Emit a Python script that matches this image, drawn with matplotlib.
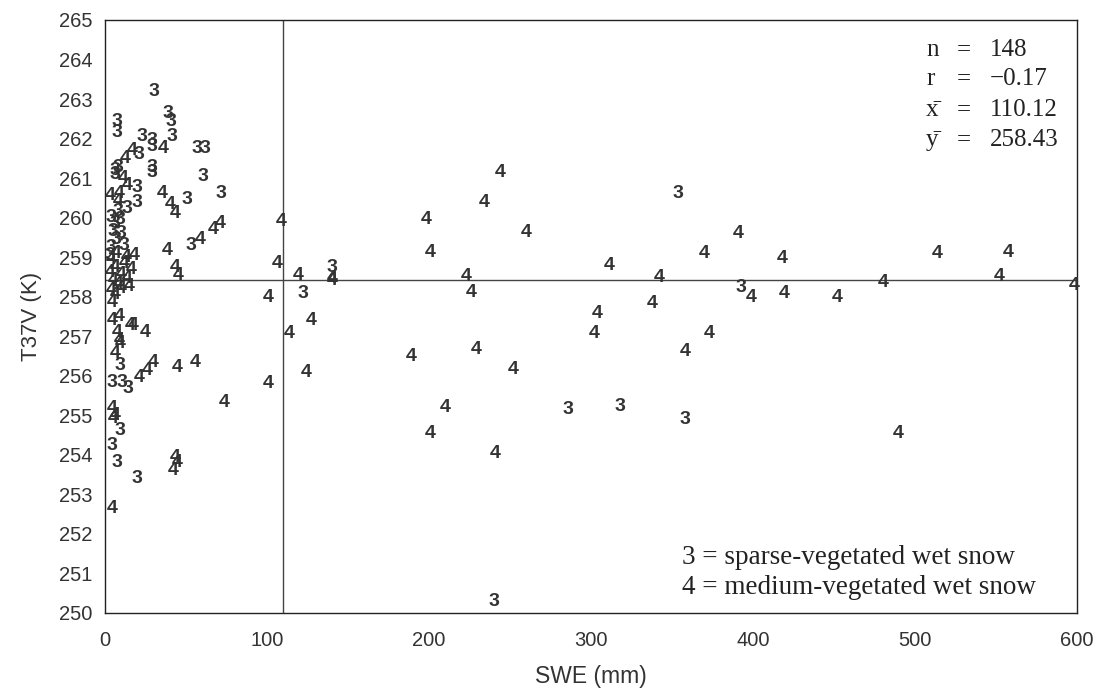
import numpy as np
import matplotlib
matplotlib.use("Agg")
import matplotlib.pyplot as plt

# SWE (mm) and T37V (K) for the two snow classes
swe_3 = [30.3, 39, 40.8, 7.4, 7.4, 41.4, 22.9, 29, 29, 56.8,
         61.8, 21, 29, 29, 60.6, 71.7, 50.7, 53, 6.2, 8,
         6.2, 13.6, 19.8, 20, 9.3, 4.3, 10.5, 14.2, 9.3, 4.3,
         7.4, 19.8, 140, 122, 286, 318, 358, 353.5, 392.5, 240,
         4, 6, 5, 7, 4, 9, 10, 3, 8, 12]
t37_3 = [263.2, 262.64, 262.42, 262.42, 262.16, 262.04, 262.04, 261.96, 261.8, 261.76,
         261.76, 261.6, 261.28, 261.15, 261.03, 260.62, 260.47, 259.3, 261.2, 261.28,
         261.08, 260.24, 260.37, 260.75, 256.27, 255.84, 255.84, 255.68, 254.62, 254.24,
         253.81, 253.41, 258.75, 258.09, 255.15, 255.23, 254.9, 260.62, 258.22, 250.3,
         260.0, 259.85, 259.65, 259.45, 259.25, 259.95, 259.6, 259.05, 260.15, 259.3]

swe_4 = [244, 234, 198, 260, 201, 223, 226, 229, 189, 252,
         210, 201, 241, 109, 106, 119, 140, 140, 101, 127,
         114, 101, 124, 73.5, 55.6, 71, 66.7, 58.7, 391, 370,
         418, 311, 513.6, 557.5, 342, 552, 480, 598, 399, 419,
         452, 338, 304, 302, 373, 358, 489.5, 36, 16.7, 12.4,
         35.2, 40.2, 43.3, 38.3, 43.3, 45, 11, 3, 8, 14,
         4.3, 15.5, 17.3, 24.7, 7.4, 8.5, 9.3, 6.2, 29.7, 26,
         21, 44.5, 4.3, 6.2, 5, 43.3, 44.5, 42, 4.3, 4.3,
         8.5, 4, 6, 3, 5, 8, 4, 10, 12, 7,
         14, 16, 10, 18, 6, 13, 15, 9]
t37_4 = [261.13, 260.37, 259.94, 259.63, 259.13, 258.52, 258.11, 256.67, 256.49, 256.16,
         255.2, 254.54, 254.04, 259.89, 258.85, 258.54, 258.47, 258.42, 257.99, 257.4,
         257.08, 255.81, 256.09, 255.33, 256.34, 259.86, 259.71, 259.45, 259.6, 259.1,
         258.97, 258.8, 259.08, 259.13, 258.49, 258.52, 258.37, 258.29, 257.99, 258.09,
         257.99, 257.84, 257.58, 257.08, 257.08, 256.62, 254.54, 261.75, 261.7, 261.5,
         260.62, 260.32, 260.11, 259.18, 258.75, 258.54, 261.0, 260.57, 260.4, 260.8,
         257.4, 257.28, 257.28, 257.1, 257.1, 256.9, 256.82, 256.57, 256.34, 256.14,
         255.96, 256.22, 255.18, 255.0, 254.92, 253.94, 253.81, 253.61, 252.65, 257.86,
         257.5, 258.95, 258.75, 258.6, 258.4, 258.3, 258.15, 258.55, 258.85, 259.1,
         258.45, 258.7, 258.2, 259.05, 258.05, 259.0, 258.25, 260.6]

stat_names = ["n", "r", "x\u0304", "y\u0304"]
stat_values = ["148", "\u22120.17", "110.12", "258.43"]
class_notes = ["3 = sparse-vegetated wet snow", "4 = medium-vegetated wet snow"]
mean_swe = 110.12
mean_t37 = 258.43

plt.rcParams['font.family'] = ['Liberation Sans', 'DejaVu Sans']
ink = "#333333"

fig = plt.figure(figsize=(10.98, 6.93), dpi=100)
ax = fig.add_axes([0.0956, 0.1155, 0.8854, 0.8557])

# each point is drawn as its class number
for x, y in zip(swe_3, t37_3):
    ax.text(x, y, "3", ha="center", va="center", fontsize=14,
            fontweight="bold", color=ink)
for x, y in zip(swe_4, t37_4):
    ax.text(x, y, "4", ha="center", va="center", fontsize=14,
            fontweight="bold", color=ink)

ax.axvline(mean_swe, color="#444444", lw=1)
ax.axhline(mean_t37, color="#444444", lw=1)

ax.set_xlim(0, 600)
ax.set_ylim(250, 265)
ax.set_xticks(np.arange(0, 601, 100))
ax.set_yticks(np.arange(250, 266, 1))
ax.tick_params(length=0, labelsize=14.5, labelcolor=ink)
ax.tick_params(axis="y", pad=9)
ax.tick_params(axis="x", pad=13)
for s in ax.spines.values():
    s.set_linewidth(1)
    s.set_color("#222222")

ax.set_xlabel("SWE (mm)", fontsize=16.5, color=ink, labelpad=11)
ax.set_ylabel("T37V (K)", fontsize=16, color=ink, labelpad=12)

# statistics block, top right
serif = ['Liberation Serif', 'DejaVu Serif']
row_y = [50, 79, 110, 140]
for name, val, py in zip(stat_names, stat_values, row_y):
    yf = 1 - py / 693
    fig.text(926 / 1098, yf, name, family=serif, fontsize=18, va="center", ha="left", color="#222222")
    fig.text(964 / 1098, yf, "=", family=serif, fontsize=18, va="center", ha="center", color="#222222")
    fig.text(990 / 1098, yf, val, family=serif, fontsize=18, va="center", ha="left", color="#222222")

# class legend, bottom right
for note, py in zip(class_notes, [558, 587]):
    fig.text(682 / 1098, 1 - py / 693, note, family=serif, fontsize=19.5,
             va="center", ha="left", color="#222222")

fig.savefig("out.png", dpi=100)
